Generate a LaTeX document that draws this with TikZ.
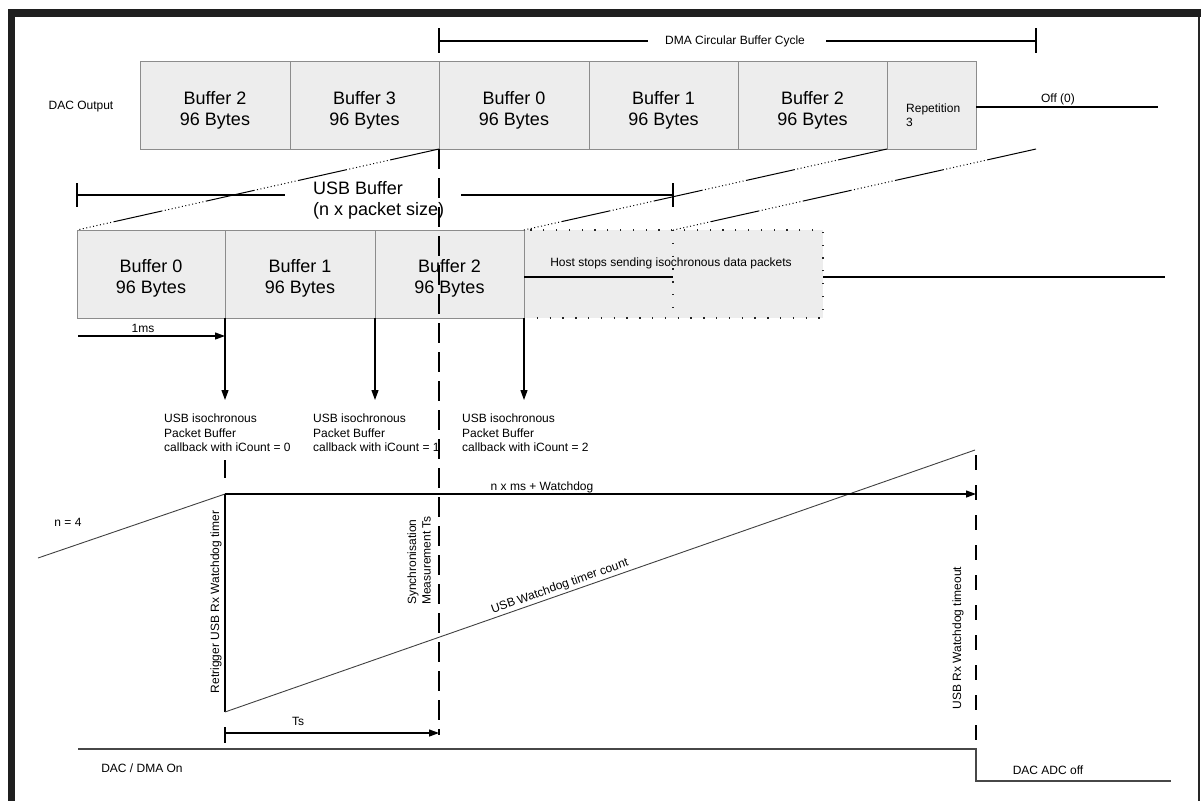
\documentclass[tikz,border=0pt]{standalone}
\usepackage{fontspec}
\setmainfont{Liberation Sans}
\usetikzlibrary{arrows.meta}

\tikzset{
  buf/.style={draw=black!45, fill=black!7, line width=0.8pt, minimum height=88pt,
              inner sep=0pt, outer sep=0pt},
  hostbox/.style={fill=black!7, draw=black!85, line width=1.3pt,
                  dash pattern=on 1.3pt off 11.5pt, minimum height=88pt,
                  inner sep=0pt, outer sep=0pt},
  sep/.style={draw=black!85, line width=1.3pt, dash pattern=on 1.3pt off 11.5pt},
  bigtxt/.style={font=\fontsize{18}{21}\selectfont, align=center, inner sep=0pt},
  smalltxt/.style={font=\fontsize{12}{14.5}\selectfont, inner sep=0pt},
  rule/.style={line width=1.2pt},
  arr/.style={line width=1.2pt, -{Triangle[length=10pt,width=7pt]}},
  ramp/.style={line width=0.9pt, draw=black!75},
  vdash/.style={line width=1.2pt, dash pattern=on 20pt off 9pt},
  tdash/.style={line width=1.2pt, dash pattern=on 15pt off 15pt},
  slant/.style={line width=1pt, dash pattern=on 50pt off 2.5pt on 1pt off 2.5pt
     on 1pt off 2.5pt on 1pt off 2.5pt on 1pt off 2.5pt on 1pt off 2.5pt
     on 1pt off 2.5pt on 1pt off 2.5pt on 1pt off 2.5pt on 1pt off 2.5pt
     on 1pt off 2.5pt on 1pt off 2.5pt on 1pt off 2.5pt},
  dacline/.style={line width=1.6pt, draw=black!72},
}

\begin{document}
\begin{tikzpicture}[x=1pt,y=-1pt]
\useasboundingbox (0,0) rectangle (1201,801);

% page frame
\fill[black!88] (8,9) rectangle (1201,17);
\fill[black!88] (8,9) rectangle (15,801);
\draw[line width=2pt, black!85] (1199,17) -- (1199,801);

% ---- DMA circular buffer cycle bracket
\coordinate (dmaL) at (439,41);
\coordinate (dmaR) at (1036,41);
\node[smalltxt] (dma) at (735,41) {DMA Circular Buffer Cycle};
\draw[rule] (439,28) -- (439,53);
\draw[rule] (1036,28) -- (1036,53);
\draw[rule] (dmaL) -- ([xshift=-17pt]dma.west);
\draw[rule] ([xshift=21pt]dma.east) -- (dmaR);

% ---- DAC output buffers
\node[smalltxt] (dacout) at (81,107) {DAC Output};
\node[buf, minimum width=150pt] (dA) at (215,105) {};
\node[buf, minimum width=149pt] (dB) at (364.5,105) {};
\node[buf, minimum width=150pt] (dC) at (514,105) {};
\node[buf, minimum width=149pt] (dD) at (663.5,105) {};
\node[buf, minimum width=149pt] (dE) at (812.5,105) {};
\node[buf, minimum width=89pt] (dR) at (931.5,105) {};
\node[bigtxt] (dAt) at ([yshift=-5pt]dA.center) {Buffer 2\\96 Bytes};
\node[bigtxt] (dBt) at ([yshift=-5pt]dB.center) {Buffer 3\\96 Bytes};
\node[bigtxt] (dCt) at ([yshift=-5pt]dC.center) {Buffer 0\\96 Bytes};
\node[bigtxt] (dDt) at ([yshift=-5pt]dD.center) {Buffer 1\\96 Bytes};
\node[bigtxt] (dEt) at ([yshift=-5pt]dE.center) {Buffer 2\\96 Bytes};
\node[smalltxt, align=left, anchor=west] (rep) at (906,115) {Repetition\\3};

% DAC off level after the last buffer
\coordinate (off0) at (976,107);
\coordinate (off1) at (1158,107);
\draw[rule] (off0) -- (off1);
\node[smalltxt] (offt) at (1058,99) {Off (0)};

% ---- USB buffer bracket
\coordinate (usbL) at (77,195);
\coordinate (usbR) at (673,195);
\node[bigtxt, align=left, anchor=west] (usbt) at (313,200) {USB Buffer\\(n x packet size)};
\draw[rule] (77,183) -- (77,207);
\draw[rule] (673,183) -- (673,207);
\draw[rule] (usbL) -- ([xshift=-28pt]usbt.west |- usbL);
\draw[rule] ([xshift=17pt]usbt.east |- usbL) -- (usbR);

% ---- USB packet buffers
\node[hostbox, minimum width=299pt] (host) at (673.5,274) {};
\draw[sep] (673,230) -- (673,318);
\node[buf, minimum width=148pt] (u0) at (151,274) {};
\node[buf, minimum width=150pt] (u1) at (300,274) {};
\node[buf, minimum width=149pt] (u2) at (449.5,274) {};
\node[bigtxt] (u0t) at ([yshift=-4pt]u0.center) {Buffer 0\\96 Bytes};
\node[bigtxt] (u1t) at ([yshift=-4pt]u1.center) {Buffer 1\\96 Bytes};
\node[bigtxt] (u2t) at ([yshift=-4pt]u2.center) {Buffer 2\\96 Bytes};
\node[smalltxt] (hostt) at (671,263) {Host stops sending isochronous data packets};
\coordinate (h1) at (524,277);
\coordinate (h2) at (673,277);
\coordinate (h3) at (823,277);
\coordinate (h4) at (1165,277);
\draw[rule] (h1) -- (h2);
\draw[rule] (h3) -- (h4);

% projection lines between the two buffer rows
\coordinate (cycEnd) at (1036,149);
\draw[slant] (dC.south west) -- (u0.north west);
\draw[slant] (dE.south east) -- (u2.north east);
\draw[slant] (cycEnd) -- (host.north);

% start of the DMA cycle, carried down the timeline
\coordinate (dmaBot) at (439,735);
\draw[vdash] (dC.south west) -- (dmaBot);

% 1 ms packet period
\coordinate (ms0) at (78,336);
\coordinate (ms1) at (225,336);
\draw[arr] (ms0) -- (ms1);
\node[smalltxt] (mst) at (143,328) {1ms};

% packet callbacks
\coordinate (cb0) at (225,400);
\coordinate (cb1) at (375,400);
\coordinate (cb2) at (524,400);
\draw[arr] (u0.south east) -- (cb0);
\draw[arr] (u1.south east) -- (cb1);
\draw[arr] (u2.south east) -- (cb2);
\node[smalltxt, align=left, anchor=west] (cbt0) at (164,433) {USB isochronous\\Packet Buffer\\callback with iCount = 0};
\node[smalltxt, align=left, anchor=west] (cbt1) at (313,433) {USB isochronous\\Packet Buffer\\callback with iCount = 1};
\node[smalltxt, align=left, anchor=west] (cbt2) at (462,433) {USB isochronous\\Packet Buffer\\callback with iCount = 2};

% ---- watchdog timer
\coordinate (peak) at (225,494);
\coordinate (base) at (225,712);
\coordinate (top) at (975,450);
\coordinate (rampL) at (38,558);
\coordinate (tmo) at (976,494);
\draw[ramp] (rampL) -- (peak);
\node[smalltxt] (nfour) at (68,522) {n = 4};
\draw[rule] (225,460) -- (225,478);
\draw[rule] (peak) -- (base);
\draw[ramp] (base) -- node[pos=0.45, sloped, above=2pt, smalltxt] (cnt) {USB Watchdog timer count} (top);
\draw[arr] (peak) -- (tmo);
\node[smalltxt] (wdt) at (542,487) {n x ms + Watchdog};
\node[smalltxt, rotate=90] (retr) at (216,602) {Retrigger USB Rx Watchdog timer};
\node[smalltxt, rotate=90, align=left, anchor=west] (sync) at (419,605) {Synchronisation\\Measurement Ts};

% watchdog timeout
\coordinate (toTop) at (976,455);
\coordinate (toBot) at (976,745);
\draw[tdash] (toTop) -- (toBot);
\node[smalltxt, rotate=90] (tot) at (958,638) {USB Rx Watchdog timeout};

% synchronisation interval Ts
\coordinate (ts0) at (225,733);
\coordinate (ts1) at (439,733);
\draw[rule] (225,727) -- (225,743);
\draw[arr] (ts0) -- (ts1);
\node[smalltxt] (tst) at (298,721) {Ts};

% ---- DAC / DMA state
\coordinate (on0) at (78,749);
\coordinate (on1) at (976,749);
\coordinate (of0) at (976,781);
\coordinate (of1) at (1171,781);
\draw[dacline] (on0) -- (on1) -- (of0) -- (of1);
\node[smalltxt] (dmaon) at (142,768) {DAC / DMA On};
\node[smalltxt] (dacoff) at (1048,770) {DAC ADC off};
\end{tikzpicture}
\end{document}
